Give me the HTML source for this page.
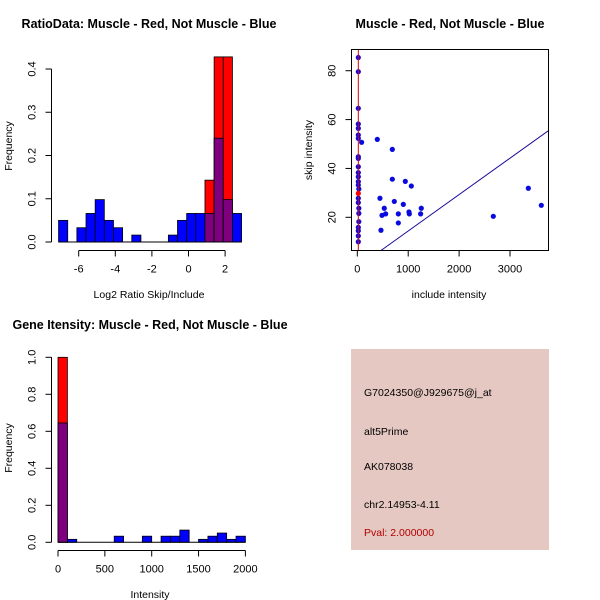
<!DOCTYPE html>
<html><head><meta charset="utf-8"><style>
body{margin:0;background:#fff}
svg{display:block;font-family:"Liberation Sans",sans-serif}
</style></head><body>
<svg id="c" width="600" height="600" xmlns="http://www.w3.org/2000/svg">
<rect width="600" height="600" fill="#fff"/>
</svg>
<script>
// Panel 1: ratio histogram (bins of 0.5 starting at -7.1)
const ratioBinStart = -7.1;
const ratioBinWidth = 0.5;
const ratioBlue = [0.05,0,0.033,0.066,0.098,0.05,0.033,0,0.016,0,0,0,0.016,0.05,0.066,0.066,0.066,0.24,0.098,0.066];
const ratioRed  = [0,0,0,0,0,0,0,0,0,0,0,0,0,0,0,0,0.143,0.428,0.428,0];
const ratioXTicks = [-6,-4,-2,0,2];
const ratioYTicks = [0,0.1,0.2,0.3,0.4];
// Panel 2: scatter
const incl = [20,20,20,20,20,20,20,85,20,20,20,20,20,20,20,30,20,20,20,30,30,30,20,20,20,20,393,688,688,943,1061,445,727,904,530,1257,1015,557,806,1022,1244,485,806,465,2672,3360,3615];
const skip = [85.4,79.6,64.6,58.2,56.4,53.7,52.3,50.7,44.8,44.1,40.7,38.3,36.6,34.6,33.2,31.6,29.8,27.8,26,23.7,21.6,18.2,15.9,14.5,12.4,10,51.9,47.8,35.6,34.7,32.8,27.8,26.5,25.3,23.7,23.7,22.2,21.4,21.4,21.4,21.4,20.8,17.7,14.7,20.4,31.9,24.9];
const redPointIdx = [16];
const scatXTicks = [0,1000,2000,3000];
const scatYTicks = [20,40,60,80];
const fitSlope = 0.0149, fitIntercept = -0.5, redLineX = 20;
// Panel 3: intensity histogram (bins of 100 from 0)
const intBinWidth = 100;
const intBlue = [0.645,0.016,0,0,0,0,0.033,0,0,0.033,0,0.033,0.033,0.066,0,0.016,0.033,0.05,0.016,0.033];
const intRed  = [1.0,0,0,0,0,0,0,0,0,0,0,0,0,0,0,0,0,0,0,0];
const intXTicks = [0,500,1000,1500,2000];
const intYTicks = [0,0.2,0.4,0.6,0.8,1.0];

const svg = document.getElementById('c');
const NS = 'http://www.w3.org/2000/svg';
function mk(tag, attrs, parent){const e=document.createElementNS(NS,tag);for(const k in attrs)e.setAttribute(k,attrs[k]);(parent||svg).appendChild(e);return e;}
function txt(s,x,y,attrs,parent){const t=mk('text',Object.assign({x:x,y:y,'font-size':11,'text-anchor':'middle',fill:'#000'},attrs||{}),parent);t.textContent=s;return t;}

function histogram(g, blue, red, start, width, sx, sy){
  for(let i=0;i<blue.length;i++){
    const x0=sx(start+i*width), x1=sx(start+(i+1)*width);
    const b=blue[i], r=red[i];
    if(r>0){const e=mk('rect',{x:x0,y:sy(r),width:x1-x0,height:sy(0)-sy(r),fill:'#ff0000',stroke:'#000','stroke-width':0.8},g);
      
      }
    if(b>0){const e=mk('rect',{x:x0,y:sy(b),width:x1-x0,height:sy(0)-sy(b),fill:(r>0?'#7f007f':'#0000ff'),stroke:'#000','stroke-width':0.8},g);
      
      }
  }
}
function yAxisLeft(g, ticks, sy, x, fmt){
  mk('line',{x1:x,x2:x,y1:sy(ticks[0]),y2:sy(ticks[ticks.length-1]),stroke:'#000'},g);
  ticks.forEach(t=>{mk('line',{x1:x-6,x2:x,y1:sy(t),y2:sy(t),stroke:'#000'},g);
    const l=txt(fmt(t),x-19,sy(t),{transform:'rotate(-90 '+(x-19)+' '+sy(t)+')','dominant-baseline':'middle'},g);
    
    });
}
function xAxis(g, ticks, sx, y){
  mk('line',{x1:sx(ticks[0]),x2:sx(ticks[ticks.length-1]),y1:y,y2:y,stroke:'#000'},g);
  ticks.forEach(t=>{mk('line',{x1:sx(t),x2:sx(t),y1:y,y2:y+6,stroke:'#000'},g);
    const l=txt(String(t),sx(t),y+22,{},g);
    
    });
}

// Panel 1
{
  const g=mk('g',{});
  
  
  const sx=v=>188.5+(v-0)*18.3, sy=v=>242-v*432.5;
  histogram(g, ratioBlue, ratioRed, ratioBinStart, ratioBinWidth, sx, sy);
  mk('line',{x1:sx(ratioBinStart),x2:sx(ratioBinStart+ratioBlue.length*ratioBinWidth),y1:242,y2:242,stroke:'#000'},g);
  yAxisLeft(g, ratioYTicks, sy, 51.5, t=>t.toFixed(1));
  xAxis(g, ratioXTicks, sx, 250.5);
  const t=txt('RatioData: Muscle - Red, Not Muscle - Blue',149,28,{'font-weight':'bold','font-size':12.5},g);
   
  const xl=txt('Log2 Ratio Skip/Include',149,298,{'font-size':10.5},g);
   
  const yl=txt('Frequency',12,146,{transform:'rotate(-90 12 146)','font-size':10.5},g);
   
}
// Panel 2
{
  const g=mk('g',{});
  
  
  const L=351.5,R=548.5,T=49.5,B=250.5;
  const sx=v=>357.3+v*0.0509, sy=v=>217.3-(v-20)*2.443;
  const cp=mk('clipPath',{id:'cp'},g); mk('rect',{x:L,y:T,width:R-L,height:B-T},cp);
  const pg=mk('g',{'clip-path':'url(#cp)'},g);
  const x0=-200,x1=4000;
  const fl=mk('line',{x1:sx(x0),y1:sy(fitSlope*x0+fitIntercept),x2:sx(x1),y2:sy(fitSlope*x1+fitIntercept),stroke:'#1a0a9a','stroke-width':1},pg);
   
  for(let i=0;i<incl.length;i++){
    const red=redPointIdx.includes(i);
    const c=mk('circle',{cx:sx(incl[i]),cy:sy(skip[i]),r:2.6,fill:red?'#ff0000':'#0a0ae0'},pg);
    
    
  }
  const rl=mk('line',{x1:sx(redLineX),x2:sx(redLineX),y1:T,y2:B,stroke:'#dd0000','stroke-width':1},pg);
   
  mk('rect',{x:L,y:T,width:R-L,height:B-T,fill:'none',stroke:'#000'},g);
  scatYTicks.forEach(t=>{mk('line',{x1:L-6,x2:L,y1:sy(t),y2:sy(t),stroke:'#000'},g);
    const l=txt(String(t),L-19,sy(t),{transform:'rotate(-90 '+(L-19)+' '+sy(t)+')','dominant-baseline':'middle'},g);
     });
  scatXTicks.forEach(t=>{mk('line',{x1:sx(t),x2:sx(t),y1:B,y2:B+6,stroke:'#000'},g);
    const l=txt(String(t),sx(t),B+22,{},g);
     });
  const t=txt('Muscle - Red, Not Muscle - Blue',450,28,{'font-weight':'bold','font-size':12.5},g);
   
  const xl=txt('include intensity',449,298,{'font-size':10.5},g);
   
  const yl=txt('skip intensity',312,150,{transform:'rotate(-90 312 150)','font-size':10.5},g);
   
}
// Panel 3
{
  const g=mk('g',{});
  
  
  const sx=v=>58+v*0.0937, sy=v=>542.3-v*185;
  histogram(g, intBlue, intRed, 0, intBinWidth, sx, sy);
  mk('line',{x1:sx(0),x2:sx(intBlue.length*intBinWidth),y1:542.3,y2:542.3,stroke:'#000'},g);
  yAxisLeft(g, intYTicks, sy, 51.5, t=>t.toFixed(1));
  xAxis(g, intXTicks, sx, 550.5);
  const t=txt('Gene Itensity: Muscle - Red, Not Muscle - Blue',150,329,{'font-weight':'bold','font-size':12.5},g);
   
  const xl=txt('Intensity',150,598,{'font-size':10.5},g);
   
  const yl=txt('Frequency',12,448,{transform:'rotate(-90 12 448)','font-size':10.5},g);
   
}
// Info panel
{
  const g=mk('g',{});
  
  
  mk('rect',{x:351,y:349,width:198,height:201,fill:'#e6c8c2'},g);
  const lines=[['G7024350@J929675@j_at',396,'#000','probe-id'],['alt5Prime',435,'#000','event-type'],['AK078038',470,'#000','accession'],['chr2.14953-4.11',508,'#000','location'],['Pval: 2.000000',536,'#b00000','pvalue']];
  lines.forEach(l=>{const t=txt(l[0],364,l[1],{'text-anchor':'start','font-size':10.5,fill:l[2]},g);
     });
}
</script>
</body></html>
